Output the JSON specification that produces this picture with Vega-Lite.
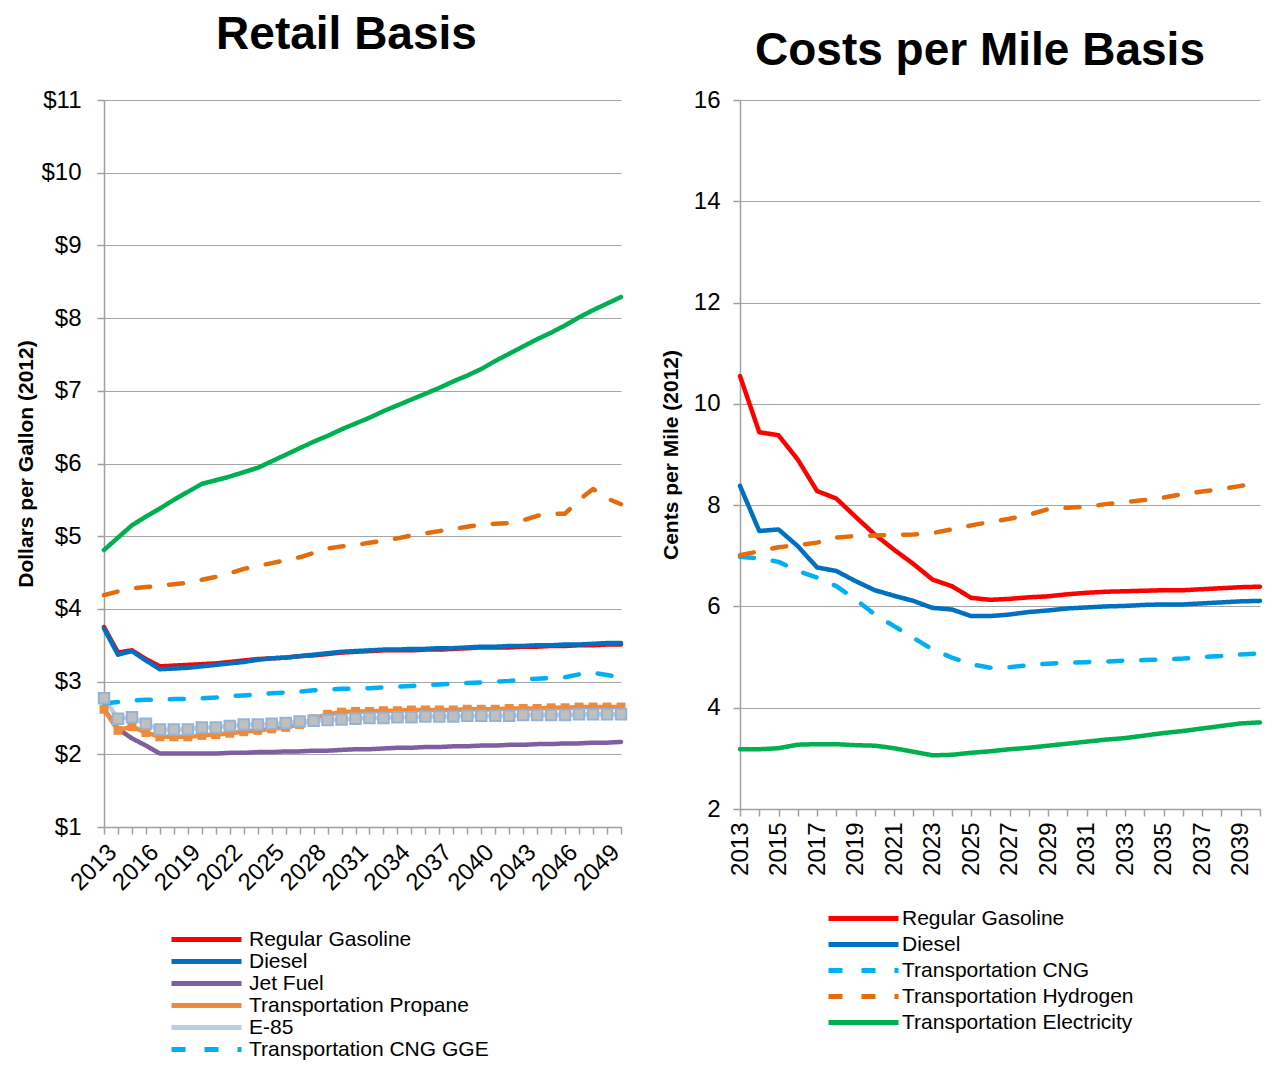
{
"$schema":"https://vega.github.io/schema/vega-lite/v6.json",
"background":"white",
"padding":{"left":15,"top":12,"right":0,"bottom":0},
"config":{
"font":"Liberation Sans",
"view":{"stroke":null},
"title":{"font":"Liberation Sans","fontSize":46,"fontWeight":"bold","color":"#000000","anchor":"middle","frame":"group","baseline":"alphabetic"},
"axis":{"labelFont":"Liberation Sans","labelFontSize":24,"labelColor":"#000000","titleFont":"Liberation Sans","titleFontSize":21,"titleFontWeight":"bold","titleColor":"#000000","domainColor":"#a0a0a0","tickColor":"#a0a0a0","gridColor":"#a6a6a6","tickSize":7,"domainWidth":1.5,"tickWidth":1.5,"gridWidth":1.2},
"legend":{"labelFont":"Liberation Sans","labelFontSize":21,"labelColor":"#000000","labelLimit":0,"symbolType":"M-7,0H7","symbolSize":100,"symbolStrokeWidth":5,"padding":0,"orient":"none"}
},
"datasets":{
"retail":[
{"fuel":"Regular Gasoline","year":2013,"value":3.75},{"fuel":"Regular Gasoline","year":2014,"value":3.40},{"fuel":"Regular Gasoline","year":2015,"value":3.43},{"fuel":"Regular Gasoline","year":2016,"value":3.31},{"fuel":"Regular Gasoline","year":2017,"value":3.21},{"fuel":"Regular Gasoline","year":2018,"value":3.22},{"fuel":"Regular Gasoline","year":2019,"value":3.23},{"fuel":"Regular Gasoline","year":2020,"value":3.24},{"fuel":"Regular Gasoline","year":2021,"value":3.25},{"fuel":"Regular Gasoline","year":2022,"value":3.27},{"fuel":"Regular Gasoline","year":2023,"value":3.29},{"fuel":"Regular Gasoline","year":2024,"value":3.31},{"fuel":"Regular Gasoline","year":2025,"value":3.32},{"fuel":"Regular Gasoline","year":2026,"value":3.33},{"fuel":"Regular Gasoline","year":2027,"value":3.35},{"fuel":"Regular Gasoline","year":2028,"value":3.36},{"fuel":"Regular Gasoline","year":2029,"value":3.38},{"fuel":"Regular Gasoline","year":2030,"value":3.40},{"fuel":"Regular Gasoline","year":2031,"value":3.41},{"fuel":"Regular Gasoline","year":2032,"value":3.42},{"fuel":"Regular Gasoline","year":2033,"value":3.43},{"fuel":"Regular Gasoline","year":2034,"value":3.43},{"fuel":"Regular Gasoline","year":2035,"value":3.43},{"fuel":"Regular Gasoline","year":2036,"value":3.44},{"fuel":"Regular Gasoline","year":2037,"value":3.44},{"fuel":"Regular Gasoline","year":2038,"value":3.45},{"fuel":"Regular Gasoline","year":2039,"value":3.46},{"fuel":"Regular Gasoline","year":2040,"value":3.47},{"fuel":"Regular Gasoline","year":2041,"value":3.47},{"fuel":"Regular Gasoline","year":2042,"value":3.47},{"fuel":"Regular Gasoline","year":2043,"value":3.48},{"fuel":"Regular Gasoline","year":2044,"value":3.48},{"fuel":"Regular Gasoline","year":2045,"value":3.49},{"fuel":"Regular Gasoline","year":2046,"value":3.49},{"fuel":"Regular Gasoline","year":2047,"value":3.50},{"fuel":"Regular Gasoline","year":2048,"value":3.50},{"fuel":"Regular Gasoline","year":2049,"value":3.51},{"fuel":"Regular Gasoline","year":2050,"value":3.51},
{"fuel":"Diesel","year":2013,"value":3.73},{"fuel":"Diesel","year":2014,"value":3.37},{"fuel":"Diesel","year":2015,"value":3.42},{"fuel":"Diesel","year":2016,"value":3.29},{"fuel":"Diesel","year":2017,"value":3.17},{"fuel":"Diesel","year":2018,"value":3.18},{"fuel":"Diesel","year":2019,"value":3.19},{"fuel":"Diesel","year":2020,"value":3.21},{"fuel":"Diesel","year":2021,"value":3.23},{"fuel":"Diesel","year":2022,"value":3.25},{"fuel":"Diesel","year":2023,"value":3.27},{"fuel":"Diesel","year":2024,"value":3.30},{"fuel":"Diesel","year":2025,"value":3.32},{"fuel":"Diesel","year":2026,"value":3.33},{"fuel":"Diesel","year":2027,"value":3.35},{"fuel":"Diesel","year":2028,"value":3.37},{"fuel":"Diesel","year":2029,"value":3.39},{"fuel":"Diesel","year":2030,"value":3.41},{"fuel":"Diesel","year":2031,"value":3.42},{"fuel":"Diesel","year":2032,"value":3.43},{"fuel":"Diesel","year":2033,"value":3.44},{"fuel":"Diesel","year":2034,"value":3.44},{"fuel":"Diesel","year":2035,"value":3.45},{"fuel":"Diesel","year":2036,"value":3.45},{"fuel":"Diesel","year":2037,"value":3.46},{"fuel":"Diesel","year":2038,"value":3.46},{"fuel":"Diesel","year":2039,"value":3.47},{"fuel":"Diesel","year":2040,"value":3.48},{"fuel":"Diesel","year":2041,"value":3.48},{"fuel":"Diesel","year":2042,"value":3.49},{"fuel":"Diesel","year":2043,"value":3.49},{"fuel":"Diesel","year":2044,"value":3.50},{"fuel":"Diesel","year":2045,"value":3.50},{"fuel":"Diesel","year":2046,"value":3.51},{"fuel":"Diesel","year":2047,"value":3.51},{"fuel":"Diesel","year":2048,"value":3.52},{"fuel":"Diesel","year":2049,"value":3.53},{"fuel":"Diesel","year":2050,"value":3.53},
{"fuel":"Jet Fuel","year":2013,"value":2.62},{"fuel":"Jet Fuel","year":2014,"value":2.35},{"fuel":"Jet Fuel","year":2015,"value":2.22},{"fuel":"Jet Fuel","year":2016,"value":2.12},{"fuel":"Jet Fuel","year":2017,"value":2.01},{"fuel":"Jet Fuel","year":2018,"value":2.01},{"fuel":"Jet Fuel","year":2019,"value":2.01},{"fuel":"Jet Fuel","year":2020,"value":2.01},{"fuel":"Jet Fuel","year":2021,"value":2.01},{"fuel":"Jet Fuel","year":2022,"value":2.02},{"fuel":"Jet Fuel","year":2023,"value":2.02},{"fuel":"Jet Fuel","year":2024,"value":2.03},{"fuel":"Jet Fuel","year":2025,"value":2.03},{"fuel":"Jet Fuel","year":2026,"value":2.04},{"fuel":"Jet Fuel","year":2027,"value":2.04},{"fuel":"Jet Fuel","year":2028,"value":2.05},{"fuel":"Jet Fuel","year":2029,"value":2.05},{"fuel":"Jet Fuel","year":2030,"value":2.06},{"fuel":"Jet Fuel","year":2031,"value":2.07},{"fuel":"Jet Fuel","year":2032,"value":2.07},{"fuel":"Jet Fuel","year":2033,"value":2.08},{"fuel":"Jet Fuel","year":2034,"value":2.09},{"fuel":"Jet Fuel","year":2035,"value":2.09},{"fuel":"Jet Fuel","year":2036,"value":2.10},{"fuel":"Jet Fuel","year":2037,"value":2.10},{"fuel":"Jet Fuel","year":2038,"value":2.11},{"fuel":"Jet Fuel","year":2039,"value":2.11},{"fuel":"Jet Fuel","year":2040,"value":2.12},{"fuel":"Jet Fuel","year":2041,"value":2.12},{"fuel":"Jet Fuel","year":2042,"value":2.13},{"fuel":"Jet Fuel","year":2043,"value":2.13},{"fuel":"Jet Fuel","year":2044,"value":2.14},{"fuel":"Jet Fuel","year":2045,"value":2.14},{"fuel":"Jet Fuel","year":2046,"value":2.15},{"fuel":"Jet Fuel","year":2047,"value":2.15},{"fuel":"Jet Fuel","year":2048,"value":2.16},{"fuel":"Jet Fuel","year":2049,"value":2.16},{"fuel":"Jet Fuel","year":2050,"value":2.17},
{"fuel":"Transportation Propane","year":2013,"value":2.62},{"fuel":"Transportation Propane","year":2014,"value":2.33},{"fuel":"Transportation Propane","year":2015,"value":2.38},{"fuel":"Transportation Propane","year":2016,"value":2.30},{"fuel":"Transportation Propane","year":2017,"value":2.24},{"fuel":"Transportation Propane","year":2018,"value":2.24},{"fuel":"Transportation Propane","year":2019,"value":2.24},{"fuel":"Transportation Propane","year":2020,"value":2.26},{"fuel":"Transportation Propane","year":2021,"value":2.27},{"fuel":"Transportation Propane","year":2022,"value":2.29},{"fuel":"Transportation Propane","year":2023,"value":2.31},{"fuel":"Transportation Propane","year":2024,"value":2.33},{"fuel":"Transportation Propane","year":2025,"value":2.35},{"fuel":"Transportation Propane","year":2026,"value":2.37},{"fuel":"Transportation Propane","year":2027,"value":2.41},{"fuel":"Transportation Propane","year":2028,"value":2.49},{"fuel":"Transportation Propane","year":2029,"value":2.55},{"fuel":"Transportation Propane","year":2030,"value":2.58},{"fuel":"Transportation Propane","year":2031,"value":2.59},{"fuel":"Transportation Propane","year":2032,"value":2.59},{"fuel":"Transportation Propane","year":2033,"value":2.60},{"fuel":"Transportation Propane","year":2034,"value":2.60},{"fuel":"Transportation Propane","year":2035,"value":2.61},{"fuel":"Transportation Propane","year":2036,"value":2.61},{"fuel":"Transportation Propane","year":2037,"value":2.61},{"fuel":"Transportation Propane","year":2038,"value":2.61},{"fuel":"Transportation Propane","year":2039,"value":2.62},{"fuel":"Transportation Propane","year":2040,"value":2.62},{"fuel":"Transportation Propane","year":2041,"value":2.62},{"fuel":"Transportation Propane","year":2042,"value":2.63},{"fuel":"Transportation Propane","year":2043,"value":2.63},{"fuel":"Transportation Propane","year":2044,"value":2.63},{"fuel":"Transportation Propane","year":2045,"value":2.64},{"fuel":"Transportation Propane","year":2046,"value":2.64},{"fuel":"Transportation Propane","year":2047,"value":2.65},{"fuel":"Transportation Propane","year":2048,"value":2.65},{"fuel":"Transportation Propane","year":2049,"value":2.65},{"fuel":"Transportation Propane","year":2050,"value":2.65},
{"fuel":"E-85","year":2013,"value":2.77},{"fuel":"E-85","year":2014,"value":2.49},{"fuel":"E-85","year":2015,"value":2.51},{"fuel":"E-85","year":2016,"value":2.42},{"fuel":"E-85","year":2017,"value":2.34},{"fuel":"E-85","year":2018,"value":2.34},{"fuel":"E-85","year":2019,"value":2.34},{"fuel":"E-85","year":2020,"value":2.37},{"fuel":"E-85","year":2021,"value":2.37},{"fuel":"E-85","year":2022,"value":2.39},{"fuel":"E-85","year":2023,"value":2.41},{"fuel":"E-85","year":2024,"value":2.41},{"fuel":"E-85","year":2025,"value":2.42},{"fuel":"E-85","year":2026,"value":2.43},{"fuel":"E-85","year":2027,"value":2.45},{"fuel":"E-85","year":2028,"value":2.46},{"fuel":"E-85","year":2029,"value":2.47},{"fuel":"E-85","year":2030,"value":2.48},{"fuel":"E-85","year":2031,"value":2.49},{"fuel":"E-85","year":2032,"value":2.50},{"fuel":"E-85","year":2033,"value":2.50},{"fuel":"E-85","year":2034,"value":2.51},{"fuel":"E-85","year":2035,"value":2.51},{"fuel":"E-85","year":2036,"value":2.52},{"fuel":"E-85","year":2037,"value":2.52},{"fuel":"E-85","year":2038,"value":2.52},{"fuel":"E-85","year":2039,"value":2.53},{"fuel":"E-85","year":2040,"value":2.53},{"fuel":"E-85","year":2041,"value":2.53},{"fuel":"E-85","year":2042,"value":2.53},{"fuel":"E-85","year":2043,"value":2.54},{"fuel":"E-85","year":2044,"value":2.54},{"fuel":"E-85","year":2045,"value":2.54},{"fuel":"E-85","year":2046,"value":2.54},{"fuel":"E-85","year":2047,"value":2.55},{"fuel":"E-85","year":2048,"value":2.55},{"fuel":"E-85","year":2049,"value":2.55},{"fuel":"E-85","year":2050,"value":2.55},
{"fuel":"Transportation CNG GGE","year":2013,"value":2.70},{"fuel":"Transportation CNG GGE","year":2014,"value":2.72},{"fuel":"Transportation CNG GGE","year":2015,"value":2.74},{"fuel":"Transportation CNG GGE","year":2016,"value":2.75},{"fuel":"Transportation CNG GGE","year":2017,"value":2.75},{"fuel":"Transportation CNG GGE","year":2018,"value":2.76},{"fuel":"Transportation CNG GGE","year":2019,"value":2.76},{"fuel":"Transportation CNG GGE","year":2020,"value":2.77},{"fuel":"Transportation CNG GGE","year":2021,"value":2.78},{"fuel":"Transportation CNG GGE","year":2022,"value":2.80},{"fuel":"Transportation CNG GGE","year":2023,"value":2.81},{"fuel":"Transportation CNG GGE","year":2024,"value":2.82},{"fuel":"Transportation CNG GGE","year":2025,"value":2.84},{"fuel":"Transportation CNG GGE","year":2026,"value":2.85},{"fuel":"Transportation CNG GGE","year":2027,"value":2.86},{"fuel":"Transportation CNG GGE","year":2028,"value":2.88},{"fuel":"Transportation CNG GGE","year":2029,"value":2.89},{"fuel":"Transportation CNG GGE","year":2030,"value":2.90},{"fuel":"Transportation CNG GGE","year":2031,"value":2.90},{"fuel":"Transportation CNG GGE","year":2032,"value":2.91},{"fuel":"Transportation CNG GGE","year":2033,"value":2.92},{"fuel":"Transportation CNG GGE","year":2034,"value":2.93},{"fuel":"Transportation CNG GGE","year":2035,"value":2.94},{"fuel":"Transportation CNG GGE","year":2036,"value":2.95},{"fuel":"Transportation CNG GGE","year":2037,"value":2.96},{"fuel":"Transportation CNG GGE","year":2038,"value":2.97},{"fuel":"Transportation CNG GGE","year":2039,"value":2.98},{"fuel":"Transportation CNG GGE","year":2040,"value":2.99},{"fuel":"Transportation CNG GGE","year":2041,"value":3.00},{"fuel":"Transportation CNG GGE","year":2042,"value":3.01},{"fuel":"Transportation CNG GGE","year":2043,"value":3.03},{"fuel":"Transportation CNG GGE","year":2044,"value":3.04},{"fuel":"Transportation CNG GGE","year":2045,"value":3.05},{"fuel":"Transportation CNG GGE","year":2046,"value":3.06},{"fuel":"Transportation CNG GGE","year":2047,"value":3.10},{"fuel":"Transportation CNG GGE","year":2048,"value":3.12},{"fuel":"Transportation CNG GGE","year":2049,"value":3.09},{"fuel":"Transportation CNG GGE","year":2050,"value":3.06},
{"fuel":"Transportation Hydrogen","year":2013,"value":4.19},{"fuel":"Transportation Hydrogen","year":2014,"value":4.24},{"fuel":"Transportation Hydrogen","year":2015,"value":4.28},{"fuel":"Transportation Hydrogen","year":2016,"value":4.30},{"fuel":"Transportation Hydrogen","year":2017,"value":4.32},{"fuel":"Transportation Hydrogen","year":2018,"value":4.34},{"fuel":"Transportation Hydrogen","year":2019,"value":4.36},{"fuel":"Transportation Hydrogen","year":2020,"value":4.40},{"fuel":"Transportation Hydrogen","year":2021,"value":4.44},{"fuel":"Transportation Hydrogen","year":2022,"value":4.49},{"fuel":"Transportation Hydrogen","year":2023,"value":4.55},{"fuel":"Transportation Hydrogen","year":2024,"value":4.59},{"fuel":"Transportation Hydrogen","year":2025,"value":4.63},{"fuel":"Transportation Hydrogen","year":2026,"value":4.67},{"fuel":"Transportation Hydrogen","year":2027,"value":4.71},{"fuel":"Transportation Hydrogen","year":2028,"value":4.77},{"fuel":"Transportation Hydrogen","year":2029,"value":4.83},{"fuel":"Transportation Hydrogen","year":2030,"value":4.86},{"fuel":"Transportation Hydrogen","year":2031,"value":4.88},{"fuel":"Transportation Hydrogen","year":2032,"value":4.91},{"fuel":"Transportation Hydrogen","year":2033,"value":4.94},{"fuel":"Transportation Hydrogen","year":2034,"value":4.97},{"fuel":"Transportation Hydrogen","year":2035,"value":5.01},{"fuel":"Transportation Hydrogen","year":2036,"value":5.04},{"fuel":"Transportation Hydrogen","year":2037,"value":5.07},{"fuel":"Transportation Hydrogen","year":2038,"value":5.10},{"fuel":"Transportation Hydrogen","year":2039,"value":5.13},{"fuel":"Transportation Hydrogen","year":2040,"value":5.16},{"fuel":"Transportation Hydrogen","year":2041,"value":5.17},{"fuel":"Transportation Hydrogen","year":2042,"value":5.18},{"fuel":"Transportation Hydrogen","year":2043,"value":5.22},{"fuel":"Transportation Hydrogen","year":2044,"value":5.28},{"fuel":"Transportation Hydrogen","year":2045,"value":5.31},{"fuel":"Transportation Hydrogen","year":2046,"value":5.31},{"fuel":"Transportation Hydrogen","year":2047,"value":5.50},{"fuel":"Transportation Hydrogen","year":2048,"value":5.65},{"fuel":"Transportation Hydrogen","year":2049,"value":5.52},{"fuel":"Transportation Hydrogen","year":2050,"value":5.44},
{"fuel":"Transportation Electricity","year":2013,"value":4.81},{"fuel":"Transportation Electricity","year":2014,"value":4.98},{"fuel":"Transportation Electricity","year":2015,"value":5.15},{"fuel":"Transportation Electricity","year":2016,"value":5.27},{"fuel":"Transportation Electricity","year":2017,"value":5.38},{"fuel":"Transportation Electricity","year":2018,"value":5.50},{"fuel":"Transportation Electricity","year":2019,"value":5.61},{"fuel":"Transportation Electricity","year":2020,"value":5.72},{"fuel":"Transportation Electricity","year":2021,"value":5.77},{"fuel":"Transportation Electricity","year":2022,"value":5.82},{"fuel":"Transportation Electricity","year":2023,"value":5.88},{"fuel":"Transportation Electricity","year":2024,"value":5.94},{"fuel":"Transportation Electricity","year":2025,"value":6.03},{"fuel":"Transportation Electricity","year":2026,"value":6.12},{"fuel":"Transportation Electricity","year":2027,"value":6.21},{"fuel":"Transportation Electricity","year":2028,"value":6.30},{"fuel":"Transportation Electricity","year":2029,"value":6.38},{"fuel":"Transportation Electricity","year":2030,"value":6.47},{"fuel":"Transportation Electricity","year":2031,"value":6.55},{"fuel":"Transportation Electricity","year":2032,"value":6.63},{"fuel":"Transportation Electricity","year":2033,"value":6.72},{"fuel":"Transportation Electricity","year":2034,"value":6.80},{"fuel":"Transportation Electricity","year":2035,"value":6.88},{"fuel":"Transportation Electricity","year":2036,"value":6.96},{"fuel":"Transportation Electricity","year":2037,"value":7.04},{"fuel":"Transportation Electricity","year":2038,"value":7.13},{"fuel":"Transportation Electricity","year":2039,"value":7.21},{"fuel":"Transportation Electricity","year":2040,"value":7.30},{"fuel":"Transportation Electricity","year":2041,"value":7.41},{"fuel":"Transportation Electricity","year":2042,"value":7.51},{"fuel":"Transportation Electricity","year":2043,"value":7.61},{"fuel":"Transportation Electricity","year":2044,"value":7.71},{"fuel":"Transportation Electricity","year":2045,"value":7.80},{"fuel":"Transportation Electricity","year":2046,"value":7.90},{"fuel":"Transportation Electricity","year":2047,"value":8.01},{"fuel":"Transportation Electricity","year":2048,"value":8.11},{"fuel":"Transportation Electricity","year":2049,"value":8.20},{"fuel":"Transportation Electricity","year":2050,"value":8.29}
],
"mile":[
{"fuel":"Regular Gasoline","year":2013,"value":10.55},{"fuel":"Regular Gasoline","year":2014,"value":9.44},{"fuel":"Regular Gasoline","year":2015,"value":9.38},{"fuel":"Regular Gasoline","year":2016,"value":8.90},{"fuel":"Regular Gasoline","year":2017,"value":8.28},{"fuel":"Regular Gasoline","year":2018,"value":8.13},{"fuel":"Regular Gasoline","year":2019,"value":7.77},{"fuel":"Regular Gasoline","year":2020,"value":7.42},{"fuel":"Regular Gasoline","year":2021,"value":7.12},{"fuel":"Regular Gasoline","year":2022,"value":6.84},{"fuel":"Regular Gasoline","year":2023,"value":6.53},{"fuel":"Regular Gasoline","year":2024,"value":6.40},{"fuel":"Regular Gasoline","year":2025,"value":6.17},{"fuel":"Regular Gasoline","year":2026,"value":6.13},{"fuel":"Regular Gasoline","year":2027,"value":6.15},{"fuel":"Regular Gasoline","year":2028,"value":6.18},{"fuel":"Regular Gasoline","year":2029,"value":6.20},{"fuel":"Regular Gasoline","year":2030,"value":6.24},{"fuel":"Regular Gasoline","year":2031,"value":6.27},{"fuel":"Regular Gasoline","year":2032,"value":6.29},{"fuel":"Regular Gasoline","year":2033,"value":6.30},{"fuel":"Regular Gasoline","year":2034,"value":6.31},{"fuel":"Regular Gasoline","year":2035,"value":6.32},{"fuel":"Regular Gasoline","year":2036,"value":6.32},{"fuel":"Regular Gasoline","year":2037,"value":6.34},{"fuel":"Regular Gasoline","year":2038,"value":6.36},{"fuel":"Regular Gasoline","year":2039,"value":6.38},{"fuel":"Regular Gasoline","year":2040,"value":6.39},
{"fuel":"Diesel","year":2013,"value":8.38},{"fuel":"Diesel","year":2014,"value":7.49},{"fuel":"Diesel","year":2015,"value":7.52},{"fuel":"Diesel","year":2016,"value":7.19},{"fuel":"Diesel","year":2017,"value":6.77},{"fuel":"Diesel","year":2018,"value":6.70},{"fuel":"Diesel","year":2019,"value":6.50},{"fuel":"Diesel","year":2020,"value":6.32},{"fuel":"Diesel","year":2021,"value":6.21},{"fuel":"Diesel","year":2022,"value":6.11},{"fuel":"Diesel","year":2023,"value":5.97},{"fuel":"Diesel","year":2024,"value":5.94},{"fuel":"Diesel","year":2025,"value":5.81},{"fuel":"Diesel","year":2026,"value":5.81},{"fuel":"Diesel","year":2027,"value":5.84},{"fuel":"Diesel","year":2028,"value":5.89},{"fuel":"Diesel","year":2029,"value":5.92},{"fuel":"Diesel","year":2030,"value":5.96},{"fuel":"Diesel","year":2031,"value":5.98},{"fuel":"Diesel","year":2032,"value":6.00},{"fuel":"Diesel","year":2033,"value":6.01},{"fuel":"Diesel","year":2034,"value":6.03},{"fuel":"Diesel","year":2035,"value":6.04},{"fuel":"Diesel","year":2036,"value":6.04},{"fuel":"Diesel","year":2037,"value":6.06},{"fuel":"Diesel","year":2038,"value":6.08},{"fuel":"Diesel","year":2039,"value":6.10},{"fuel":"Diesel","year":2040,"value":6.11},
{"fuel":"Transportation CNG","year":2013,"value":6.98},{"fuel":"Transportation CNG","year":2014,"value":6.95},{"fuel":"Transportation CNG","year":2015,"value":6.88},{"fuel":"Transportation CNG","year":2016,"value":6.70},{"fuel":"Transportation CNG","year":2017,"value":6.57},{"fuel":"Transportation CNG","year":2018,"value":6.40},{"fuel":"Transportation CNG","year":2019,"value":6.14},{"fuel":"Transportation CNG","year":2020,"value":5.84},{"fuel":"Transportation CNG","year":2021,"value":5.61},{"fuel":"Transportation CNG","year":2022,"value":5.38},{"fuel":"Transportation CNG","year":2023,"value":5.15},{"fuel":"Transportation CNG","year":2024,"value":4.99},{"fuel":"Transportation CNG","year":2025,"value":4.86},{"fuel":"Transportation CNG","year":2026,"value":4.79},{"fuel":"Transportation CNG","year":2027,"value":4.80},{"fuel":"Transportation CNG","year":2028,"value":4.84},{"fuel":"Transportation CNG","year":2029,"value":4.87},{"fuel":"Transportation CNG","year":2030,"value":4.89},{"fuel":"Transportation CNG","year":2031,"value":4.90},{"fuel":"Transportation CNG","year":2032,"value":4.91},{"fuel":"Transportation CNG","year":2033,"value":4.93},{"fuel":"Transportation CNG","year":2034,"value":4.94},{"fuel":"Transportation CNG","year":2035,"value":4.95},{"fuel":"Transportation CNG","year":2036,"value":4.97},{"fuel":"Transportation CNG","year":2037,"value":5.00},{"fuel":"Transportation CNG","year":2038,"value":5.02},{"fuel":"Transportation CNG","year":2039,"value":5.05},{"fuel":"Transportation CNG","year":2040,"value":5.07},
{"fuel":"Transportation Hydrogen","year":2013,"value":7.01},{"fuel":"Transportation Hydrogen","year":2014,"value":7.09},{"fuel":"Transportation Hydrogen","year":2015,"value":7.17},{"fuel":"Transportation Hydrogen","year":2016,"value":7.21},{"fuel":"Transportation Hydrogen","year":2017,"value":7.26},{"fuel":"Transportation Hydrogen","year":2018,"value":7.36},{"fuel":"Transportation Hydrogen","year":2019,"value":7.39},{"fuel":"Transportation Hydrogen","year":2020,"value":7.40},{"fuel":"Transportation Hydrogen","year":2021,"value":7.41},{"fuel":"Transportation Hydrogen","year":2022,"value":7.42},{"fuel":"Transportation Hydrogen","year":2023,"value":7.45},{"fuel":"Transportation Hydrogen","year":2024,"value":7.52},{"fuel":"Transportation Hydrogen","year":2025,"value":7.60},{"fuel":"Transportation Hydrogen","year":2026,"value":7.67},{"fuel":"Transportation Hydrogen","year":2027,"value":7.73},{"fuel":"Transportation Hydrogen","year":2028,"value":7.81},{"fuel":"Transportation Hydrogen","year":2029,"value":7.92},{"fuel":"Transportation Hydrogen","year":2030,"value":7.95},{"fuel":"Transportation Hydrogen","year":2031,"value":7.97},{"fuel":"Transportation Hydrogen","year":2032,"value":8.02},{"fuel":"Transportation Hydrogen","year":2033,"value":8.06},{"fuel":"Transportation Hydrogen","year":2034,"value":8.10},{"fuel":"Transportation Hydrogen","year":2035,"value":8.15},{"fuel":"Transportation Hydrogen","year":2036,"value":8.22},{"fuel":"Transportation Hydrogen","year":2037,"value":8.27},{"fuel":"Transportation Hydrogen","year":2038,"value":8.32},{"fuel":"Transportation Hydrogen","year":2039,"value":8.38},{"fuel":"Transportation Hydrogen","year":2040,"value":8.45},
{"fuel":"Transportation Electricity","year":2013,"value":3.18},{"fuel":"Transportation Electricity","year":2014,"value":3.18},{"fuel":"Transportation Electricity","year":2015,"value":3.20},{"fuel":"Transportation Electricity","year":2016,"value":3.27},{"fuel":"Transportation Electricity","year":2017,"value":3.28},{"fuel":"Transportation Electricity","year":2018,"value":3.28},{"fuel":"Transportation Electricity","year":2019,"value":3.26},{"fuel":"Transportation Electricity","year":2020,"value":3.25},{"fuel":"Transportation Electricity","year":2021,"value":3.20},{"fuel":"Transportation Electricity","year":2022,"value":3.13},{"fuel":"Transportation Electricity","year":2023,"value":3.06},{"fuel":"Transportation Electricity","year":2024,"value":3.07},{"fuel":"Transportation Electricity","year":2025,"value":3.11},{"fuel":"Transportation Electricity","year":2026,"value":3.14},{"fuel":"Transportation Electricity","year":2027,"value":3.18},{"fuel":"Transportation Electricity","year":2028,"value":3.21},{"fuel":"Transportation Electricity","year":2029,"value":3.25},{"fuel":"Transportation Electricity","year":2030,"value":3.29},{"fuel":"Transportation Electricity","year":2031,"value":3.33},{"fuel":"Transportation Electricity","year":2032,"value":3.37},{"fuel":"Transportation Electricity","year":2033,"value":3.40},{"fuel":"Transportation Electricity","year":2034,"value":3.45},{"fuel":"Transportation Electricity","year":2035,"value":3.50},{"fuel":"Transportation Electricity","year":2036,"value":3.54},{"fuel":"Transportation Electricity","year":2037,"value":3.59},{"fuel":"Transportation Electricity","year":2038,"value":3.64},{"fuel":"Transportation Electricity","year":2039,"value":3.69},{"fuel":"Transportation Electricity","year":2040,"value":3.71}
]
},
"bounds":"flush",
"spacing":119,
"hconcat":[
{
"width":517,"height":727,
"title":{"text":"Retail Basis","offset":29,"dx":-16},
"data":{"name":"retail"},
"encoding":{
"x":{"field":"year","type":"ordinal","scale":{"type":"point","padding":0},"axis":{"title":null,"labelAngle":-45,"labelExpr":"(datum.value - 2013) % 3 == 0 ? datum.label : ''","grid":false,"labelPadding":6}},
"y":{"field":"value","type":"quantitative","scale":{"domain":[1,11]},"axis":{"title":"Dollars per Gallon (2012)","values":[1,2,3,4,5,6,7,8,9,10,11],"labelExpr":"'$' + datum.value","grid":true,"labelPadding":16,"titlePadding":4}}
},
"layer":[
{"mark":{"type":"line","strokeWidth":4.5,"strokeCap":"round","strokeJoin":"round"},
"encoding":{
"color":{"field":"fuel","type":"nominal","scale":{"domain":["Regular Gasoline","Diesel","Jet Fuel","Transportation Propane","E-85","Transportation CNG GGE","Transportation Hydrogen","Transportation Electricity"],"range":["#FF0000","#0070C0","#7E5FA0","#EE8A3C","#B9CDE5","#00B0F0","#E46C0A","#00B050"]},"legend":{"title":null,"values":["Regular Gasoline","Diesel","Jet Fuel","Transportation Propane","E-85","Transportation CNG GGE"],"orient":"none","legendX":92,"legendY":829,"rowPadding":0,"labelOffset":32}},
"strokeDash":{"field":"fuel","type":"nominal","scale":{"domain":["Regular Gasoline","Diesel","Jet Fuel","Transportation Propane","E-85","Transportation CNG GGE","Transportation Hydrogen","Transportation Electricity"],"range":[[1,0],[1,0],[1,0],[1,0],[1,0],[14,19],[14,19],[1,0]]},"legend":{"title":null,"values":["Regular Gasoline","Diesel","Jet Fuel","Transportation Propane","E-85","Transportation CNG GGE"],"orient":"none","legendX":92,"legendY":829,"rowPadding":0,"labelOffset":32}}
}},
{"transform":[{"filter":"datum.fuel == 'Transportation Propane'"}],"mark":{"type":"square","size":80,"filled":true,"color":"#EE8A3C","opacity":1}},
{"transform":[{"filter":"datum.fuel == 'E-85'"}],"mark":{"type":"square","size":110,"filled":true,"fill":"#BFBFBF","stroke":"#95B3D7","strokeWidth":2,"opacity":1}}
]
},
{
"width":520,"height":709,
"title":{"text":"Costs per Mile Basis","offset":13,"dx":-20},
"data":{"name":"mile"},
"encoding":{
"x":{"field":"year","type":"ordinal","scale":{"type":"point","padding":0},"axis":{"title":null,"labelAngle":-90,"labelExpr":"(datum.value - 2013) % 2 == 0 ? datum.label : ''","grid":false,"labelPadding":6}},
"y":{"field":"value","type":"quantitative","scale":{"domain":[2,16]},"axis":{"title":"Cents per Mile (2012)","values":[2,4,6,8,10,12,14,16],"grid":true,"labelPadding":13,"titlePadding":12}}
},
"layer":[
{"mark":{"type":"line","strokeWidth":4.5,"strokeCap":"round","strokeJoin":"round"},
"encoding":{
"color":{"field":"fuel","type":"nominal","scale":{"domain":["Regular Gasoline","Diesel","Transportation CNG","Transportation Hydrogen","Transportation Electricity"],"range":["#FF0000","#0070C0","#00B0F0","#E46C0A","#00B050"]},"legend":{"title":null,"orient":"none","legendX":113,"legendY":808,"rowPadding":4,"labelOffset":28}},
"strokeDash":{"field":"fuel","type":"nominal","scale":{"domain":["Regular Gasoline","Diesel","Transportation CNG","Transportation Hydrogen","Transportation Electricity"],"range":[[1,0],[1,0],[14,19],[14,19],[1,0]]},"legend":{"title":null,"orient":"none","legendX":113,"legendY":808,"rowPadding":4,"labelOffset":28}}
}}
]
}
],
"resolve":{"scale":{"color":"independent","strokeDash":"independent","x":"independent","y":"independent"},"legend":{"color":"independent","strokeDash":"independent"}}
}
